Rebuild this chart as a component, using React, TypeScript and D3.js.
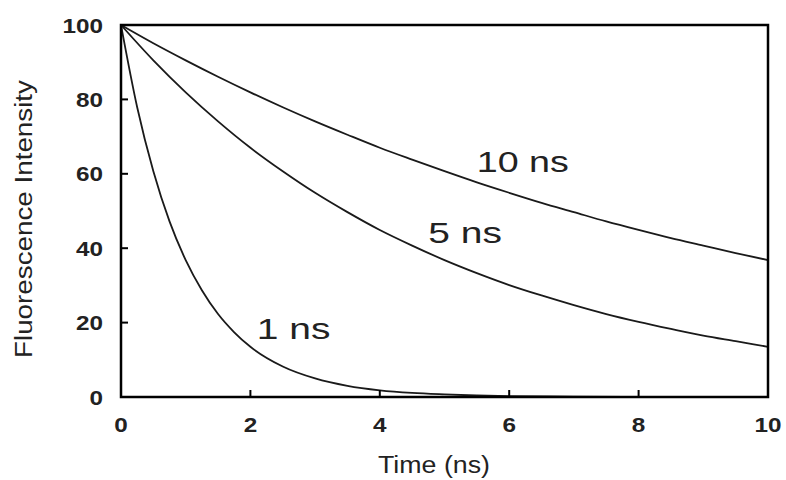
import React from 'react';
import * as d3 from 'd3';

// time points (ns) and intensities
const timeA = [0, 0.5, 1, 1.5, 2, 2.5, 3, 3.5, 4, 4.5, 5, 5.5, 6, 6.5, 7, 7.5, 8, 8.5, 9, 9.5, 10];
const tau10 = [100, 95.1, 90.5, 86.1, 81.9, 77.9, 74.1, 70.5, 67.0, 63.8, 60.7, 57.7, 54.9, 52.2, 49.7, 47.2, 44.9, 42.7, 40.7, 38.7, 36.8];
const tau5 = [100, 90.5, 81.9, 74.1, 67.0, 60.7, 54.9, 49.7, 44.9, 40.7, 36.8, 33.3, 30.1, 27.3, 24.7, 22.3, 20.2, 18.3, 16.5, 15.0, 13.5];
const timeB = [0, 0.25, 0.5, 0.75, 1, 1.25, 1.5, 1.75, 2, 2.5, 3, 3.5, 4, 4.5, 5, 5.5, 6, 7, 8, 9, 10];
const tau1 = [100, 77.9, 60.7, 47.2, 36.8, 28.7, 22.3, 17.4, 13.5, 8.2, 5.0, 3.0, 1.8, 1.1, 0.7, 0.4, 0.25, 0.1, 0, 0, 0];

const xTicks = [0, 2, 4, 6, 8, 10];
const yTicks = [0, 20, 40, 60, 80, 100];

// curve labels: [text, time, intensity] at label start
const labels: [string, number, number][] = [
  ['10 ns', 5.5, 60.5],
  ['5 ns', 4.75, 41.5],
  ['1 ns', 2.1, 15.5],
];

const W = 786;
const H = 480;
const x = d3.scaleLinear().domain([0, 10]).range([121, 768]);
const y = d3.scaleLinear().domain([0, 100]).range([397, 25]);

const line = d3.line<[number, number]>()
  .x((d) => x(d[0]))
  .y((d) => y(d[1]))
  .curve(d3.curveMonotoneX);

const series: [number, number][][] = [
  timeA.map((t, i) => [t, tau10[i]]),
  timeA.map((t, i) => [t, tau5[i]]),
  timeB.map((t, i) => [t, tau1[i]]),
];

const font = '"Liberation Sans", Arial, sans-serif';

export default function App() {
  return (
    <div style={{ position: 'fixed', left: 0, top: 0 }}>
      <svg width={W} height={H} style={{ display: 'block', background: '#fff' }} fontFamily={font}>
        {series.map((s, i) => (
          <path key={i} d={line(s) || ''} fill="none" stroke="#1a1a1a" strokeWidth={1.8} />
        ))}
        {/* frame */}
        <rect x={x(0)} y={y(100)} width={x(10) - x(0)} height={y(0) - y(100)}
          fill="none" stroke="#000" strokeWidth={2.5} />
        {yTicks.map((t) => (
          <g key={'y' + t}>
            <line x1={x(0)} x2={x(0) + 7} y1={y(t)} y2={y(t)} stroke="#000" strokeWidth={2} />
            <text x={103} y={y(t) + 7.5} textAnchor="end" fontSize={20} fontWeight="bold" fill="#222"
              textLength={String(t).length * 13.5} lengthAdjust="spacingAndGlyphs">{t}</text>
          </g>
        ))}
        {xTicks.map((t) => (
          <g key={'x' + t}>
            <line x1={x(t)} x2={x(t)} y1={y(0)} y2={y(0) - 7} stroke="#000" strokeWidth={2} />
            <text x={x(t)} y={432} textAnchor="middle" fontSize={20} fontWeight="bold" fill="#222"
              textLength={String(t).length * 13.5} lengthAdjust="spacingAndGlyphs">{t}</text>
          </g>
        ))}
        <text x={434} y={473} textAnchor="middle" fontSize={23} fill="#222"
          textLength={112} lengthAdjust="spacingAndGlyphs">Time (ns)</text>
        <text transform="translate(32,219) rotate(-90)" textAnchor="middle" fontSize={23} fill="#222"
          textLength={278} lengthAdjust="spacingAndGlyphs">Fluorescence Intensity</text>
        {labels.map(([txt, t, v]) => (
          <text key={txt} x={x(t)} y={y(v)} fontSize={29} fill="#222"
            textLength={txt.length * 18.4} lengthAdjust="spacingAndGlyphs">{txt}</text>
        ))}
      </svg>
    </div>
  );
}
